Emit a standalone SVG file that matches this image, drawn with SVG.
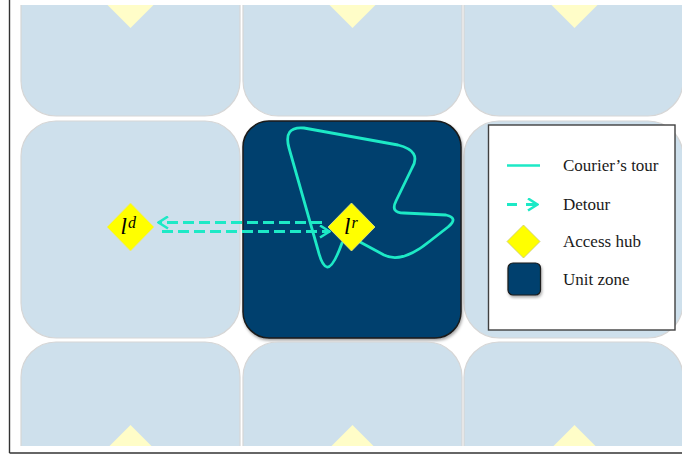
<svg xmlns="http://www.w3.org/2000/svg" width="682" height="459" viewBox="0 0 682 459">
  <style>
    .tile { fill: #CEE0EC; stroke: #D6D6D6; stroke-width: 1.2; }
    .zone { fill: #00416E; stroke: #1A1A1A; stroke-width: 1.5; }
    .pale { fill: #FFFDC8; }
    .hub { fill: #FFFF00; stroke: #E6E68A; stroke-width: 0.8; }
    .tour { fill: none; stroke: #1DE9C6; stroke-width: 2.8; stroke-linejoin: round; stroke-linecap: round; }
    .detour { fill: none; stroke: #1DE9C6; stroke-width: 3; stroke-dasharray: 11 5; }
    .lbl { font-family: "Liberation Serif", "Times New Roman", serif; font-style: italic; fill: #000; }
    .leg { font-family: "Liberation Serif", "Times New Roman", serif; font-size: 17px; fill: #1A1A1A; }
  </style>
  <defs>
    <clipPath id="view">
      <rect x="10" y="5" width="672" height="441"/>
    </clipPath>
    <marker id="chev" viewBox="0 0 12 14" refX="11" refY="7" markerWidth="12" markerHeight="14" markerUnits="userSpaceOnUse" orient="auto-start-reverse">
      <polyline points="1,1 10.5,7 1,13" fill="none" stroke="#1DE9C6" stroke-width="2.6" stroke-linejoin="miter"/>
    </marker>
    <filter id="shadow" x="-10%" y="-10%" width="125%" height="125%">
      <feDropShadow dx="1" dy="2" stdDeviation="1.5" flood-color="#000" flood-opacity="0.35"/>
    </filter>
  </defs>

  <rect x="0" y="0" width="682" height="459" fill="#FFFFFF"/>

  <g clip-path="url(#view)">
    <!-- top row -->
    <g id="zone-top-left"><rect class="tile" x="21" y="-101" width="219" height="217" rx="35"/><polygon class="pale" points="130.5,-20 154.5,4 130.5,28 106.5,4"/></g>
    <g id="zone-top-mid"><rect class="tile" x="243" y="-101" width="219" height="217" rx="35"/><polygon class="pale" points="352.5,-20 376.5,4 352.5,28 328.5,4"/></g>
    <g id="zone-top-right"><rect class="tile" x="464" y="-101" width="219" height="217" rx="35"/><polygon class="pale" points="574.5,-20 598.5,4 574.5,28 550.5,4"/></g>
    <!-- middle row -->
    <g id="zone-mid-left"><rect class="tile" x="21" y="121" width="219" height="217" rx="35"/></g>
    <g id="zone-mid-right"><rect class="tile" x="464" y="121" width="219" height="217" rx="35"/></g>
    <g id="zone-unit"><rect class="zone" x="243" y="121" width="218" height="217" rx="26" filter="url(#shadow)"/></g>
    <!-- bottom row -->
    <g id="zone-bot-left"><rect class="tile" x="21" y="342" width="219" height="217" rx="35"/><polygon class="pale" points="130.5,425 154.5,449 130.5,473 106.5,449"/></g>
    <g id="zone-bot-mid"><rect class="tile" x="243" y="342" width="219" height="217" rx="35"/><polygon class="pale" points="352.5,425 376.5,449 352.5,473 328.5,449"/></g>
    <g id="zone-bot-right"><rect class="tile" x="464" y="342" width="219" height="217" rx="35"/><polygon class="pale" points="574.5,425 598.5,449 574.5,473 550.5,449"/></g>
  </g>

  <!-- connectors -->
  <g id="connectors">
    <path id="tour" class="tour" d="M 342 243 Q 333 268 327 267 Q 322 266 318 250 L 289 148 Q 283 126 304 128 L 398 145 Q 422 151 412 168 L 396 201 Q 390 213 404 213 L 446 215 Q 459 218 448 227 L 430 241 Q 402 264 384 255 L 360 242"/>
    <line class="detour" x1="322" y1="222.5" x2="158" y2="222.5" marker-end="url(#chev)"/>
    <line class="detour" x1="162" y1="231.5" x2="330" y2="231.5" marker-end="url(#chev)"/>
  </g>

  <g id="hub-d">
    <polygon class="hub" points="130.5,203 154,227 130.5,251 107,227"/>
    <text class="lbl" x="120.5" y="234" font-size="23">l</text>
    <text class="lbl" x="128" y="228" font-size="16">d</text>
  </g>
  <g id="hub-r">
    <polygon class="hub" points="351.5,203 375,227 351.5,251 328,227"/>
    <text class="lbl" x="344" y="234" font-size="23">l</text>
    <text class="lbl" x="351.5" y="228" font-size="16">r</text>
  </g>

  <g id="legend">
    <rect x="488.5" y="125" width="186.5" height="205" fill="#FFFFFF" stroke="#404040" stroke-width="1.4"/>
    <line x1="507" y1="165.5" x2="540" y2="165.5" stroke="#1DE9C6" stroke-width="2.6"/>
    <text class="leg" x="563" y="171">Courier’s tour</text>
    <line x1="507" y1="204.5" x2="538" y2="204.5" stroke="#1DE9C6" stroke-width="3" stroke-dasharray="10 9" marker-end="url(#chev)"/>
    <text class="leg" x="563" y="210">Detour</text>
    <polygon points="523.5,225 540,241.5 523.5,258 507,241.5" fill="#FFFF00" stroke="#C8C87A" stroke-width="0.8"/>
    <text class="leg" x="563" y="247">Access hub</text>
    <rect x="508" y="263" width="32.5" height="32" rx="5" fill="#00416E" stroke="#1A1A1A" stroke-width="1.2" filter="url(#shadow)"/>
    <text class="leg" x="563" y="285">Unit zone</text>
  </g>

  <g id="frame" stroke="#333333" stroke-width="1.4" fill="none">
    <line x1="9.5" y1="0" x2="9.5" y2="453"/>
    <line x1="9.5" y1="453" x2="682" y2="453"/>
  </g>
</svg>
